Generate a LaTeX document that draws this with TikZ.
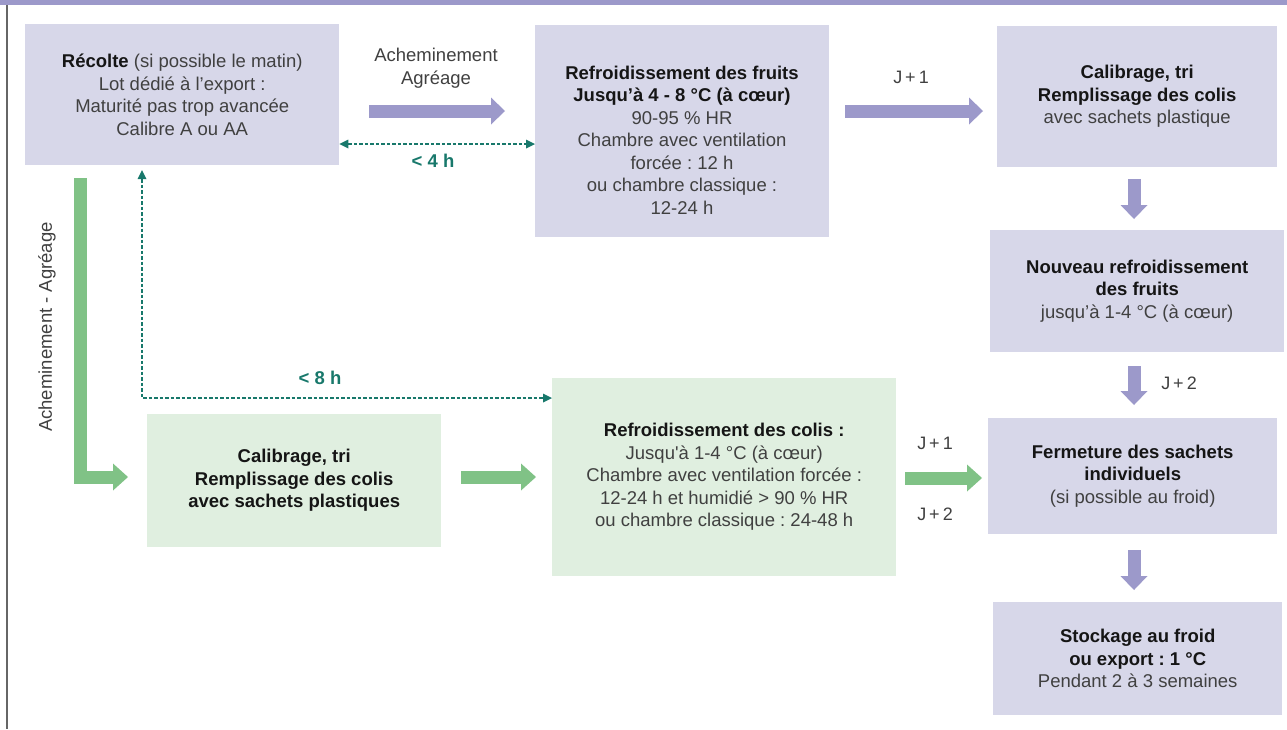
\documentclass[tikz,border=0pt]{standalone}
\usepackage{fontspec}
\setmainfont{Liberation Sans}
\usetikzlibrary{arrows.meta}
\definecolor{boxp}{HTML}{D7D7E9}
\definecolor{arrp}{HTML}{9C99CA}
\definecolor{boxg}{HTML}{E0EFE0}
\definecolor{arrg}{HTML}{80C286}
\definecolor{tealc}{HTML}{18786B}
\definecolor{txt}{HTML}{404040}
\definecolor{txtb}{HTML}{151515}
\newcommand\hb[1]{\textcolor{txtb}{\textbf{#1}}}
\frenchspacing
\begin{document}
\begin{tikzpicture}[x=1pt,y=-1pt,
  every node/.style={font=\fontsize{18.5}{22.5}\selectfont\frenchspacing, text=txt, inner sep=0pt},
  pbox/.style={fill=boxp, align=center, anchor=north west},
  gbox/.style={fill=boxg, align=center, anchor=north west},
  parrow/.style={draw=arrp, line width=13pt, line join=miter, -{Triangle[length=14pt,width=27pt,line width=0pt]}},
  garrow/.style={draw=arrg, line width=13pt, line join=miter, -{Triangle[length=15pt,width=27pt,line width=0pt]}},
  tdash/.style={draw=tealc, line width=1.1pt, dash pattern=on 3.5pt off 2pt},
  tlab/.style={font=\fontsize{18.5}{20}\selectfont\bfseries, text=tealc},
  jlab/.style={font=\fontsize{18}{20}\selectfont, text=txt}
]
\useasboundingbox (0,0) rectangle (1287,729);
% frame
\fill[arrp] (0,0) rectangle (1287,5);
\draw[black!60, line width=1.3pt] (7,5) -- (7,729);

% boxes
\node[pbox, minimum width=314pt, minimum height=141pt] (recolte) at (25,24)
  {\hb{Récolte} (si possible le matin)\\Lot dédié à l’export :\\Maturité pas trop avancée\\Calibre A ou AA};
\node[pbox, minimum width=294pt, minimum height=212pt] (refr) at (535,25) {};
\node[align=center] (refrt) at (682,140)
  {\hb{Refroidissement des fruits}\\\hb{Jusqu’à 4 - 8 °C (à cœur)}\\90-95 \% HR\\Chambre avec ventilation\\forcée : 12 h\\ou chambre classique :\\12-24 h};
\node[pbox, minimum width=280pt, minimum height=141pt] (calib) at (997,26)
  {\hb{Calibrage, tri}\\\hb{Remplissage des colis}\\avec sachets plastique};
\node[pbox, minimum width=294pt, minimum height=122pt] (nouveau) at (990,230)
  {\hb{Nouveau refroidissement}\\\hb{des fruits}\\jusqu’à 1-4 °C (à cœur)};
\node[pbox, minimum width=289pt, minimum height=116pt] (ferm) at (988,418)
  {\hb{Fermeture des sachets}\\\hb{individuels}\\(si possible au froid)};
\node[pbox, minimum width=289pt, minimum height=113pt] (stock) at (993,602)
  {\hb{Stockage au froid}\\\hb{ou export : 1 °C}\\Pendant 2 à 3 semaines};
\node[gbox, minimum width=294pt, minimum height=133pt] (gcalib) at (147,414)
  {\hb{Calibrage, tri}\\\hb{Remplissage des colis}\\\hb{avec sachets plastiques}};
\node[gbox, minimum width=344pt, minimum height=198pt] (gcolis) at (552,378)
  {\hb{Refroidissement des colis :}\\Jusqu\textquotesingle à 1-4 °C (à cœur)\\Chambre avec ventilation forcée :\\12-24 h et humidié > 90 \% HR\\ou chambre classique : 24-48 h};

% block arrows
\coordinate (p1s) at (369,111); \coordinate (p1e) at (505,111);
\coordinate (p2s) at (845,111); \coordinate (p2e) at (983,111);
\coordinate (d1s) at (1134,179); \coordinate (d1e) at (1134,219);
\coordinate (d2s) at (1134,366); \coordinate (d2e) at (1134,405);
\coordinate (d3s) at (1134,550); \coordinate (d3e) at (1134,590);
\coordinate (gLs) at (80,178); \coordinate (gLe) at (128,477);
\coordinate (g2s) at (461,477); \coordinate (g2e) at (536,477);
\coordinate (g3s) at (905,478); \coordinate (g3e) at (982,478);
\draw[parrow] (p1s) -- (p1e);
\draw[parrow] (p2s) -- (p2e);
\draw[parrow] (d1s) -- (d1e);
\draw[parrow] (d2s) -- (d2e);
\draw[parrow] (d3s) -- (d3e);
\draw[garrow] (gLs) |- (gLe);
\draw[garrow] (g2s) -- (g2e);
\draw[garrow] (g3s) -- (g3e);

% dashed teal connectors
\draw[tdash, {Triangle[length=9pt,width=9pt,line width=0pt]}-{Triangle[length=9pt,width=9pt,line width=0pt]}]
  (recolte.east |- 0,144) -- (refr.west |- 0,144);
\coordinate (up8) at (142,170);
\draw[tdash, {Triangle[length=9pt,width=9pt,line width=0pt]}-{Triangle[length=9pt,width=9pt,line width=0pt]}]
  (up8) |- (gcolis.west |- 0,398);

% labels
\node[align=center] (ach) at (436,68) {Acheminement\\Agréage};
\node[rotate=90] (achv) at (47,327) {Acheminement - Agréage};
\node[tlab] (l4) at (433,161) {< 4 h};
\node[tlab] (l8) at (320,378) {< 8 h};
\node[jlab] (j1a) at (911,77) {J\,+\,1};
\node[jlab] (j1b) at (935,443) {J\,+\,1};
\node[jlab] (j2b) at (935,514) {J\,+\,2};
\node[jlab] (j2a) at (1179,383) {J\,+\,2};
\end{tikzpicture}
\end{document}
